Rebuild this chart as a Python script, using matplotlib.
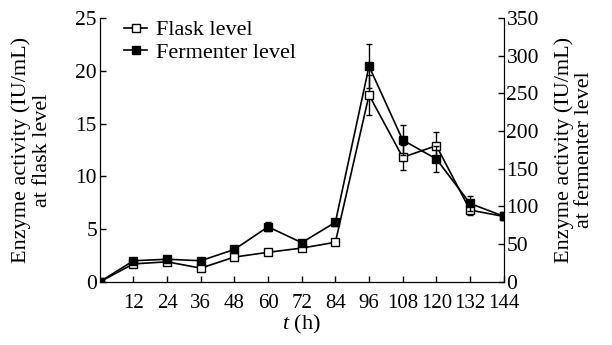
import matplotlib
matplotlib.use('Agg')
import matplotlib.pyplot as plt
from matplotlib.lines import Line2D
import numpy as np

plt.rcParams['font.family'] = 'Liberation Serif'
plt.rcParams['mathtext.fontset'] = 'custom'
plt.rcParams['mathtext.it'] = 'Liberation Serif:italic'
plt.rcParams['mathtext.rm'] = 'Liberation Serif'

# data
hours = [0, 12, 24, 36, 48, 60, 72, 84, 96, 108, 120, 132, 144]
flask = [0, 1.7, 1.9, 1.3, 2.35, 2.8, 3.2, 3.75, 17.7, 11.8, 12.9, 6.8, 6.2]
flask_err = [0, 0.2, 0.2, 0.2, 0.2, 0.2, 0.2, 0.2, 1.9, 1.2, 1.3, 0.5, 0.3]
ferm = [0, 28, 30, 28, 43, 73, 52, 79, 286, 188, 163, 104, 87]
ferm_err = [0, 3, 3, 3, 4, 6, 4, 5, 29, 20, 17, 10, 4]

xticks = [12, 24, 36, 48, 60, 72, 84, 96, 108, 120, 132, 144]
left_ticks = [0, 5, 10, 15, 20, 25]
right_ticks = [0, 50, 100, 150, 200, 250, 300, 350]

fs = 16

fig, ax = plt.subplots(figsize=(6.12, 3.45), dpi=100)
fig.subplots_adjust(left=0.163, right=0.823, top=0.948, bottom=0.183)
ax2 = ax.twinx()

ax.errorbar(hours, flask, yerr=flask_err, color='black', marker='s', mfc='white',
            mec='black', ms=5.5, lw=1.2, capsize=2, elinewidth=1, zorder=3)
ax2.errorbar(hours, ferm, yerr=ferm_err, color='black', marker='s', mfc='black',
             mec='black', ms=5.5, lw=1.2, capsize=2, elinewidth=1, zorder=3)

ax.set_xlim(0, 144)
ax.set_ylim(0, 25)
ax2.set_ylim(0, 350)
ax.set_xticks(xticks)
ax.set_yticks(left_ticks)
ax2.set_yticks(right_ticks)

for a in (ax, ax2):
    a.tick_params(direction='in', length=4, width=1, labelsize=15.5, pad=2)
    a.spines['top'].set_visible(False)
ax.tick_params(axis='x', labelsize=15, pad=9)

ax.set_xlabel('$t$ (h)', fontsize=fs, labelpad=0)
ax.set_ylabel('Enzyme activity (IU/mL)\nat flask level', fontsize=fs, labelpad=17, linespacing=1.1)
ax2.set_ylabel('Enzyme activity (IU/mL)\nat fermenter level', fontsize=fs, labelpad=11, linespacing=1.1)

h1 = Line2D([], [], color='black', marker='s', mfc='white', mec='black', ms=5.5, lw=1.2)
h2 = Line2D([], [], color='black', marker='s', mfc='black', mec='black', ms=5.5, lw=1.2)
ax.legend([h1, h2], ['Flask level', 'Fermenter level'], loc='upper left', frameon=False,
          fontsize=fs, handlelength=1.0, handletextpad=0.4, borderaxespad=0.1,
          labelspacing=0.1, borderpad=0.1, bbox_to_anchor=(0.05, 1.01))

fig.savefig('out.png', dpi=100)
